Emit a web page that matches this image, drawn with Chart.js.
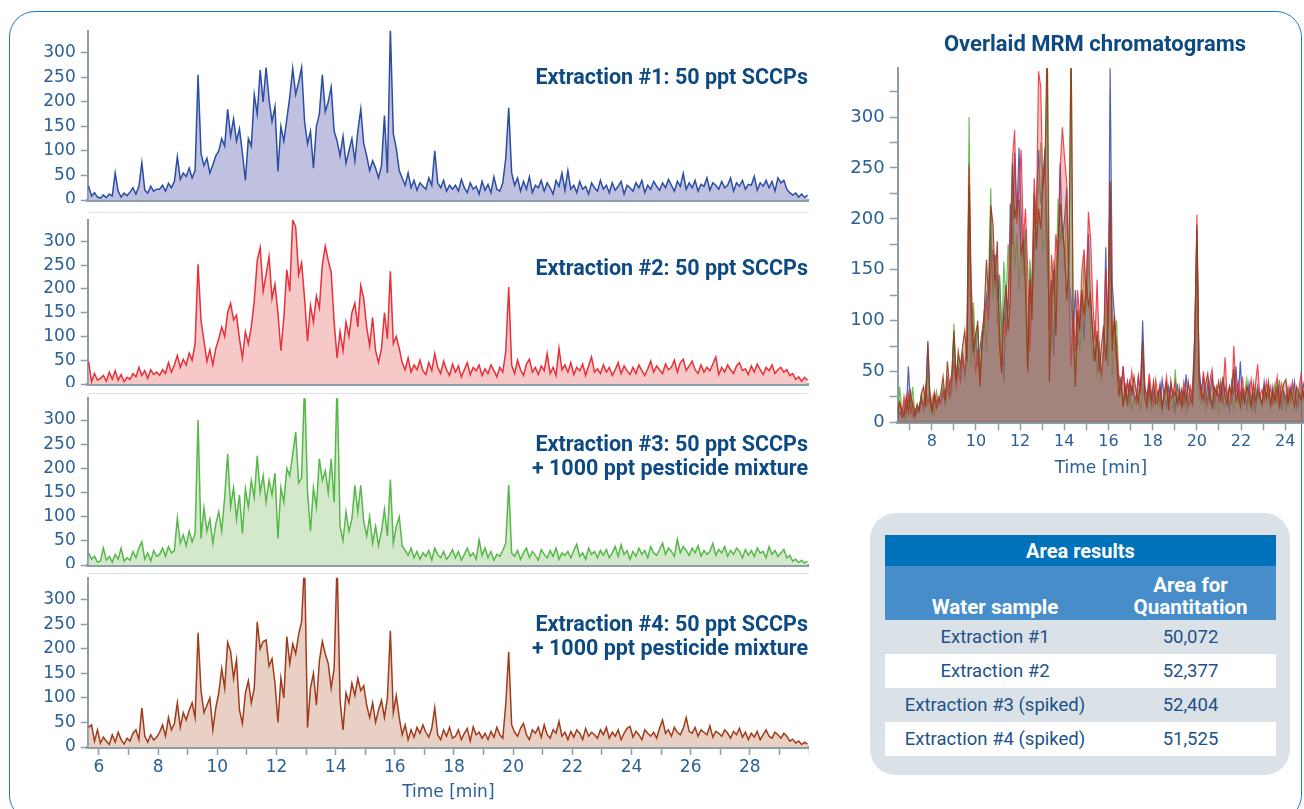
<!DOCTYPE html>
<html>
<head>
<meta charset="utf-8">
<script src="https://cdn.jsdelivr.net/npm/chart.js@4.4.1/dist/chart.umd.min.js"></script>
<style>
  body { margin: 0; width: 1304px; height: 809px; overflow: hidden; background: #fff; position: relative; font-family: Roboto, sans-serif; }
  .frame { position: absolute; left: 9px; top: 11px; width: 1293px; height: 810px; border: 1.5px solid #1f7bc8; border-radius: 26px; box-sizing: border-box; }
  canvas { position: absolute; }
  .lbl { position: absolute; right: 496px; color: #0d4a84; font-weight: 700; font-size: 21.5px; line-height: 24px; text-align: right; white-space: nowrap; }
  .sep { position: absolute; left: 88px; width: 721px; height: 1px; background: #dde2e6; }
  .otitle { position: absolute; left: 895px; width: 400px; top: 32px; text-align: center; color: #0d4a84; font-weight: 700; font-size: 22px; line-height: 24px; }
  .box { position: absolute; left: 870px; top: 513px; width: 420px; height: 262px; background: #dae1e7; border-radius: 26px; }
  table { position: absolute; left: 885px; top: 535px; width: 391px; border-collapse: collapse; font-size: 18.5px; color: #1d5288; }
  td { padding: 0; text-align: center; }
  .h1 td { background: #0071bb; color: #fff; font-weight: 700; font-size: 20px; height: 31px; }
  .h2 td { background: #478dca; color: #fff; font-weight: 700; font-size: 20.5px; height: 52px; vertical-align: bottom; line-height: 22px; padding-bottom: 2px; }
  .r td { height: 34px; }
  .w td { background: #fff; }
</style>
</head>
<body>
<div class="frame"></div>

<canvas id="p1" width="789" height="183" style="left:20px;top:20px"></canvas>
<canvas id="p2" width="789" height="177" style="left:20px;top:210px"></canvas>
<canvas id="p3" width="789" height="178" style="left:20px;top:390px"></canvas>
<canvas id="p4" width="789" height="237" style="left:20px;top:570px"></canvas>
<canvas id="ov" width="474" height="428" style="left:830px;top:55px"></canvas>

<div class="sep" style="top:212px"></div>
<div class="sep" style="top:393px"></div>
<div class="sep" style="top:573px"></div>

<div class="lbl" style="top:65px">Extraction #1: 50 ppt SCCPs</div>
<div class="lbl" style="top:256px">Extraction #2: 50 ppt SCCPs</div>
<div class="lbl" style="top:432px">Extraction #3: 50 ppt SCCPs<br>+ 1000 ppt pesticide mixture</div>
<div class="lbl" style="top:612px">Extraction #4: 50 ppt SCCPs<br>+ 1000 ppt pesticide mixture</div>
<div class="otitle">Overlaid MRM chromatograms</div>

<div class="box"></div>
<table>
  <tr class="h1"><td colspan="2">Area results</td></tr>
  <tr class="h2"><td style="width:220px">Water sample</td><td>Area for<br>Quantitation</td></tr>
  <tr class="r"><td>Extraction #1</td><td>50,072</td></tr>
  <tr class="r w"><td>Extraction #2</td><td>52,377</td></tr>
  <tr class="r"><td>Extraction #3 (spiked)</td><td>52,404</td></tr>
  <tr class="r w"><td>Extraction #4 (spiked)</td><td>51,525</td></tr>
</table>

<script>
// retention time grid: first point 5.65 min, one point every 0.1 min
const startMin = 5.65;
const stepMin = 0.1;

// intensities, one row per minute (5.65-5.95, then 6.05-6.95, ...)
const ext1 = [
  28, 8, 15, 6,
  4, 10, 5, 12, 8, 55, 18, 6, 14, 9,
  16, 25, 12, 28, 76, 20, 14, 28, 18, 22,
  22, 30, 18, 34, 25, 38, 88, 42, 55, 48,
  65, 45, 60, 255, 95, 70, 85, 55, 72, 90,
  100, 125, 110, 185, 130, 165, 120, 145, 95, 40,
  125, 110, 215, 175, 265, 200, 270, 205, 160, 190,
  58, 150, 120, 165, 210, 268, 215, 240, 270, 160,
  115, 140, 65, 150, 175, 255, 180, 200, 230, 140,
  120, 90, 130, 75, 100, 125, 80, 140, 185, 115,
  90, 60, 80, 65, 45, 70, 172, 55, 350, 135,
  105, 60, 45, 30, 55, 25, 40, 20, 35, 28,
  22, 45, 30, 100, 35, 25, 40, 18, 30, 22,
  30, 18, 42, 25, 15, 35, 22, 28, 12, 38,
  20, 32, 15, 47, 22, 18, 35, 85, 188, 55,
  30, 45, 18, 38, 22, 47, 15, 30, 25, 40,
  18, 35, 25, 12, 40, 28, 55, 20, 60, 22,
  30, 15, 38, 22, 28, 12, 35, 25, 18, 40,
  22, 30, 15, 35, 20, 28, 38, 12, 30, 25,
  18, 35, 25, 40, 15, 30, 22, 38, 28, 20,
  35, 25, 42, 30, 18, 38, 28, 54, 22, 35,
  25, 40, 18, 32, 28, 45, 20, 35, 30, 22,
  38, 25, 30, 45, 18, 35, 28, 40, 22, 32,
  30, 48, 20, 35, 28, 40, 25, 38, 18, 45,
  35, 40, 22, 15, 10, 14, 6, 12, 5, 10
];
const ext2 = [
  47, 5, 22, 8,
  12, 18, 6, 25, 10, 28, 8, 20, 5, 14,
  10, 22, 15, 35, 18, 28, 12, 30, 20, 25,
  18, 30, 22, 45, 25, 40, 60, 35, 52, 40,
  65, 50, 85, 252, 134, 90, 48, 72, 40, 75,
  95, 120, 100, 150, 170, 135, 145, 95, 55, 110,
  85, 120, 175, 260, 287, 195, 230, 268, 180, 210,
  150, 70, 140, 240, 195, 345, 330, 230, 255, 180,
  90, 165, 130, 185, 160, 250, 290, 260, 235, 130,
  55, 110, 70, 130, 100, 150, 170, 120, 207, 180,
  120, 80, 140, 70, 45, 75, 150, 95, 237, 85,
  100, 75, 45, 30, 55, 25, 40, 30, 50, 28,
  20, 45, 28, 64, 35, 22, 48, 30, 18, 42,
  25, 38, 15, 30, 45, 20, 35, 28, 40, 18,
  32, 22, 40, 28, 15, 35, 25, 68, 204, 40,
  22, 50, 30, 18, 42, 52, 25, 35, 20, 38,
  28, 64, 22, 35, 18, 75, 30, 40, 25, 45,
  20, 35, 28, 42, 18, 38, 57, 25, 32, 22,
  40, 25, 35, 18, 30, 45, 22, 38, 28, 20,
  35, 22, 40, 28, 18, 32, 48, 25, 38, 30,
  22, 42, 30, 35, 50, 25, 45, 52, 28, 38,
  48, 30, 22, 40, 25, 35, 28, 42, 57, 20,
  35, 25, 40, 30, 22, 38, 45, 28, 32, 20,
  38, 25, 42, 30, 20, 35, 28, 40, 22, 30,
  35, 25, 30, 18, 22, 10, 15, 6, 14, 8
];
const ext3 = [
  25, 12, 18, 6,
  8, 35, 10, 18, 6, 22, 12, 35, 8, 15,
  10, 28, 15, 35, 48, 12, 25, 8, 30, 18,
  22, 35, 18, 38, 25, 30, 97, 45, 62, 40,
  70, 48, 65, 300, 55, 118, 70, 95, 45, 85,
  110, 70, 140, 230, 120, 160, 95, 145, 65, 158,
  120, 175, 140, 226, 150, 185, 130, 175, 145, 190,
  55, 160, 130, 200, 185, 230, 275, 170, 180, 380,
  150, 70, 160, 120, 220, 175, 195, 150, 220, 130,
  380, 80, 50, 110, 70, 95, 165, 110, 165, 90,
  60, 100, 45, 80, 40, 70, 115, 60, 177, 45,
  80, 100, 40, 30, 20, 35, 15, 28, 12, 25,
  18, 30, 10, 35, 22, 15, 28, 12, 20, 32,
  15, 28, 10, 22, 35, 18, 25, 12, 52, 20,
  35, 15, 28, 10, 22, 18, 30, 45, 166, 25,
  18, 30, 12, 25, 35, 15, 28, 20, 10, 32,
  22, 15, 30, 18, 35, 12, 25, 20, 28, 15,
  30, 43, 18, 25, 12, 35, 22, 28, 15, 30,
  20, 32, 15, 25, 38, 18, 42, 22, 30, 12,
  28, 18, 35, 22, 30, 15, 38, 25, 20, 32,
  45, 22, 35, 28, 18, 53, 25, 38, 30, 20,
  35, 25, 40, 18, 30, 22, 28, 45, 20, 32,
  25, 38, 18, 30, 22, 35, 28, 15, 32, 20,
  30, 18, 35, 25, 28, 15, 38, 22, 30, 18,
  25, 32, 15, 20, 8, 12, 5, 10, 4, 8
];
const ext4 = [
  40, 45, 12, 35,
  8, 20, 12, 5, 25, 10, 30, 15, 6, 18,
  12, 28, 35, 15, 80, 22, 10, 25, 14, 20,
  30, 45, 22, 60, 35, 48, 90, 40, 70, 55,
  75, 90, 60, 233, 115, 70, 85, 100, 35, 80,
  110, 160, 120, 213, 195, 140, 178, 75, 48, 110,
  135, 90, 120, 255, 200, 215, 218, 165, 180, 130,
  50, 140, 100, 225, 170, 210, 190, 230, 255, 380,
  40, 120, 150, 85, 175, 215, 190, 170, 120, 160,
  380, 95, 35, 110, 90, 130, 105, 140, 115, 125,
  85, 60, 90, 50, 75, 95, 60, 100, 237, 70,
  105, 60, 25, 45, 15, 35, 20, 40, 28, 45,
  30, 20, 38, 80, 25, 15, 35, 22, 40, 18,
  22, 35, 15, 28, 38, 12, 41, 25, 30, 18,
  28, 15, 32, 20, 40, 25, 18, 86, 194, 45,
  30, 22, 38, 48, 25, 15, 35, 28, 40, 20,
  45, 25, 18, 35, 28, 52, 22, 30, 15, 32,
  20, 35, 28, 15, 38, 22, 30, 25, 18, 35,
  25, 40, 18, 30, 22, 35, 15, 28, 38, 42,
  20, 32, 25, 15, 35, 28, 22, 30, 18, 38,
  55, 28, 35, 22, 40, 30, 25, 38, 60, 32,
  28, 40, 22, 35, 30, 25, 43, 20, 32, 28,
  22, 35, 28, 18, 32, 25, 38, 20, 30, 15,
  28, 20, 32, 15, 25, 35, 22, 18, 30, 25,
  18, 28, 22, 12, 16, 8, 12, 5, 10, 6
];

[ext1, ext2, ext3, ext4].forEach((a, i) => {
  if (a.length !== 244) throw new Error('series ' + (i + 1) + ' has ' + a.length + ' points');
});

const leftTimeLabels = [6, 8, 10, 12, 14, 16, 18, 20, 22, 24, 26, 28];
const overlayTimeLabels = [8, 10, 12, 14, 16, 18, 20, 22, 24];
const countLabels = [0, 50, 100, 150, 200, 250, 300];

// the overlay was plotted on a slightly different retention time calibration
const overlayRt = { gain: 0.982, shift: 0.51 };

const tickColor = '#2a6097';
const axisGrey = '#8c9ea8';
const tickFamily = 'DejaVu Sans';

function points(arr, gain, shift) {
  return arr.map((v, i) => ({ x: (startMin + i * stepMin) * gain + shift, y: v }));
}

function yAxis(maxV, step, tickLen, fontSize) {
  return {
    min: 0, max: maxV,
    afterBuildTicks: s => { s.ticks = s.ticks.filter(t => t.value % step === 0); },
    afterFit: s => { s.width = 67.7; s.paddingTop = 0; s.paddingBottom = 0; },
    ticks: { stepSize: step, includeBounds: false, color: tickColor, font: { family: tickFamily, size: fontSize }, padding: 5,
             callback: v => countLabels.includes(v) ? String(v) : '' },
    grid: { drawOnChartArea: false, color: axisGrey, tickLength: tickLen, tickWidth: 1.5 },
    border: { color: axisGrey, width: 2 }
  };
}

function xAxis(min, max, labels, showTicks, height, fontSize) {
  return {
    type: 'linear', min: min, max: max,
    afterBuildTicks: s => { s.ticks = s.ticks.filter(t => Number.isInteger(t.value)); },
    afterFit: s => { s.height = height; s.paddingLeft = 0; s.paddingRight = 0; },
    ticks: { display: showTicks, stepSize: 1, includeBounds: false, autoSkip: false, maxRotation: 0,
             color: tickColor, font: { family: tickFamily, size: fontSize }, padding: 2,
             callback: v => labels.includes(v) ? String(v) : '' },
    grid: { display: showTicks, drawOnChartArea: false, color: axisGrey, tickLength: 8, tickWidth: 1.5 },
    border: { color: axisGrey, width: 3 },
    title: { display: showTicks, text: 'Time [min]', color: tickColor, font: { family: tickFamily, size: 17 }, padding: { top: 0, bottom: 4 } }
  };
}

const baseOpts = {
  responsive: false, animation: false, devicePixelRatio: 1,
  plugins: { legend: { display: false }, tooltip: { enabled: false } },
  elements: { point: { radius: 0 }, line: { tension: 0 } }
};

function panel(id, data, line, fill, padTop, last) {
  new Chart(id, {
    type: 'line',
    data: { datasets: [{ data: points(data, 1, 0), borderColor: line, backgroundColor: fill, borderWidth: 1.5, fill: 'origin' }] },
    options: Object.assign({}, baseOpts, {
      layout: { padding: { top: padTop, right: 0, bottom: 0, left: 0 } },
      scales: {
        x: xAxis(5.62, 30.0, leftTimeLabels, last, last ? 60 : 3, 17),
        y: yAxis(345, 50, 7, 17)
      }
    })
  });
}

panel('p1', ext1, '#2b4ea3', '#c0c1e0', 10.7, false);
panel('p2', ext2, '#e8303a', '#f7c8c8', 10, false);
panel('p3', ext3, '#57b84a', '#d4e9cc', 8.3, false);
panel('p4', ext4, '#a03c1c', '#e8d0c5', 7.7, true);

new Chart('ov', {
  type: 'line',
  data: {
    datasets: [
      { data: points(ext4, overlayRt.gain, overlayRt.shift), borderColor: 'rgba(150,60,25,0.9)', backgroundColor: 'rgba(130,100,95,0.4)' },
      { data: points(ext2, overlayRt.gain, overlayRt.shift), borderColor: 'rgba(235,35,45,0.8)', backgroundColor: 'rgba(230,60,60,0.3)' },
      { data: points(ext3, overlayRt.gain, overlayRt.shift), borderColor: 'rgba(80,175,55,0.8)', backgroundColor: 'rgba(90,170,70,0.3)' },
      { data: points(ext1, overlayRt.gain, overlayRt.shift), borderColor: 'rgba(45,65,170,0.8)', backgroundColor: 'rgba(70,90,170,0.3)' }
    ].map(d => Object.assign(d, { borderWidth: 1.2, fill: 'origin' }))
  },
  options: Object.assign({}, baseOpts, {
    layout: { padding: { top: 13.3, right: 0, bottom: 0, left: 0 } },
    scales: {
      x: xAxis(6.46, 24.85, overlayTimeLabels, true, 60.7, 16),
      y: yAxis(348, 25, 8, 18)
    }
  })
});
</script>
</body>
</html>
